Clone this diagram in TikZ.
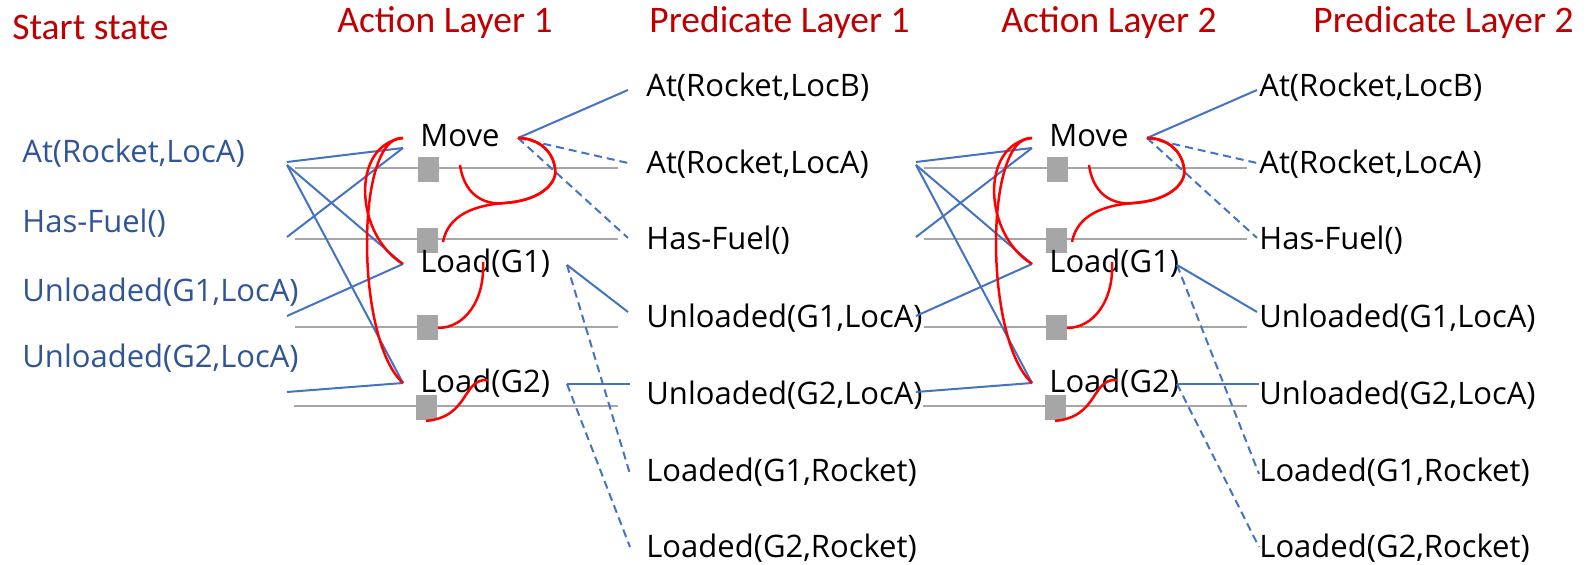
\documentclass[tikz,border=0pt]{standalone}
\usepackage{fontspec}
\setmainfont{Open Sans}
\newfontfamily\titlefont{Carlito}
\definecolor{tred}{HTML}{C00000}
\definecolor{sblue}{HTML}{2F5597}
\definecolor{lblue}{HTML}{4472C4}
\definecolor{lgray}{HTML}{A6A6A6}
\tikzset{
  title/.style={anchor=base west, inner sep=0pt, text=tred, font=\titlefont\fontsize{18.75}{20}\selectfont},
  pred/.style={anchor=base west, inner sep=0pt, text=black, font=\fontsize{15.5}{17}\selectfont},
  spred/.style={pred, text=sblue},
  act/.style={pred},
  link/.style={draw=lblue, line width=1pt},
  neg/.style={link, dash pattern=on 4pt off 2.5pt},
  noopline/.style={draw=lgray, line width=1.4pt},
  noopbox/.style={fill=lgray, draw=none, minimum width=10.5pt, minimum height=12.5pt, inner sep=0pt},
  mutex/.style={draw=red, line width=1.25pt},
}
% #1 suffix, #2 x shift (px), #3 local x of the Load right ends
\newcommand\ActLayer[3]{%
\begin{scope}[shift={(#2,0)}]
  % noop lines
  \coordinate (gA0#1) at (295,168);  \coordinate (gA1#1) at (618,168);
  \coordinate (gH0#1) at (295,239);  \coordinate (gH1#1) at (618,239);
  \coordinate (gU0#1) at (295,327);  \coordinate (gU1#1) at (618,327);
  \coordinate (gV0#1) at (294,406);  \coordinate (gV1#1) at (618,406);
  \draw[noopline] (gA0#1) -- (gA1#1);
  \draw[noopline] (gH0#1) -- (gH1#1);
  \draw[noopline] (gU0#1) -- (gU1#1);
  \draw[noopline] (gV0#1) -- (gV1#1);
  \node[noopbox] (nbA#1) at (428,170) {};
  \node[noopbox] (nbH#1) at (427,241) {};
  \node[noopbox] (nbU#1) at (427,328) {};
  \node[noopbox] (nbV#1) at (426,408) {};
  % action labels
  \node[act] (move#1) at (420,147) {Move};
  \node[act] (loadA#1) at (420,273) {Load(G1)};
  \node[act] (loadB#1) at (420,393) {Load(G2)};
  % connection points
  \coordinate (pAt#1) at (287,162);
  \coordinate (pAu#1) at (287,165);
  \coordinate (pHf#1) at (287,237);
  \coordinate (pUa#1) at (287,316);
  \coordinate (pUb#1) at (287,392);
  \coordinate (mvIn#1) at (403,148);
  \coordinate (mvL#1) at (403,138);
  \coordinate (laL#1) at (403,264);
  \coordinate (lbL#1) at (403,383);
  \coordinate (mvR#1) at (518,138);
  \coordinate (laR#1) at (#3,265);
  \coordinate (lbR#1) at (#3,384);
  \coordinate (qB#1) at (628,90);
  \coordinate (qA#1) at (628,163);
  \coordinate (qH#1) at (628,238);
  \coordinate (qUa#1) at (628,312);
  \coordinate (qUb#1) at (630,384);
  \coordinate (qLa#1) at (630,474);
  \coordinate (qLb#1) at (630,547);
  % preconditions
  \draw[link] (pAt#1) -- (mvIn#1);
  \draw[link] (pAu#1) -- (laL#1);
  \draw[link] (pAu#1) -- (lbL#1);
  \draw[link] (pHf#1) -- (mvIn#1);
  \draw[link] (pUa#1) -- (laL#1);
  \draw[link] (pUb#1) -- (lbL#1);
  % effects
  \draw[link] (mvR#1) -- (qB#1);
  \draw[neg] (mvR#1) -- (qA#1);
  \draw[neg] (mvR#1) -- (qH#1);
  \draw[link] (laR#1) -- (qUa#1);
  \draw[neg] (laR#1) -- (qLa#1);
  \draw[link] (lbR#1) -- (qUb#1);
  \draw[neg] (lbR#1) -- (qLb#1);
  % mutexes
  \coordinate (rj#1) at (505,203);
  \coordinate (rk#1) at (555,168);
  \coordinate (mxA#1) at (460,165);
  \coordinate (mxH#1) at (443,242);
  \coordinate (mxLa#1) at (483,262);
  \coordinate (mxLb#1) at (488,380);
  \draw[mutex] (mvL#1) .. controls (350,145) and (355,235) .. (laL#1);
  \draw[mutex] (mvL#1) .. controls (355,135) and (355,340) .. (lbL#1);
  \draw[mutex] (mxA#1) .. controls (465,200) and (490,205) .. (rj#1)
     .. controls (545,200) and (558,180) .. (rk#1)
     .. controls (552,148) and (535,138) .. (mvR#1);
  \draw[mutex] (mxH#1) .. controls (448,215) and (475,205) .. (rj#1)
     .. controls (545,200) and (558,180) .. (rk#1)
     .. controls (552,148) and (535,138) .. (mvR#1);
  \draw[mutex] (mxLa#1) .. controls (485,300) and (465,328) .. (nbU#1.east);
  \draw[mutex] (mxLb#1) .. controls (462,378) and (470,417) .. (nbV#1.south);
\end{scope}}
\begin{document}
\begin{tikzpicture}[x=0.5pt,y=-0.5pt]
\useasboundingbox (0,0) rectangle (1589,565);
% titles
\node[title] (t0) at (12,40) {Start state};
\node[title] (t1) at (337,33) {Action Layer 1};
\node[title] (t2) at (649,33) {Predicate Layer 1};
\node[title] (t3) at (1001,33) {Action Layer 2};
\node[title] (t4) at (1313,33) {Predicate Layer 2};
% start state
\node[spred] (s1) at (22,163) {At(Rocket,LocA)};
\node[spred] (s2) at (22,233) {Has-Fuel()};
\node[spred] (s3) at (22,302) {Unloaded(G1,LocA)};
\node[spred] (s4) at (22,368) {Unloaded(G2,LocA)};
% predicate layer 1
\node[pred] (a1) at (646,97) {At(Rocket,LocB)};
\node[pred] (a2) at (646,174) {At(Rocket,LocA)};
\node[pred] (a3) at (646,250) {Has-Fuel()};
\node[pred] (a4) at (646,328) {Unloaded(G1,LocA)};
\node[pred] (a5) at (646,405) {Unloaded(G2,LocA)};
\node[pred] (a6) at (646,482) {Loaded(G1,Rocket)};
\node[pred] (a7) at (646,558) {Loaded(G2,Rocket)};
% predicate layer 2
\node[pred] (b1) at (1259,97) {At(Rocket,LocB)};
\node[pred] (b2) at (1259,174) {At(Rocket,LocA)};
\node[pred] (b3) at (1259,250) {Has-Fuel()};
\node[pred] (b4) at (1259,328) {Unloaded(G1,LocA)};
\node[pred] (b5) at (1259,405) {Unloaded(G2,LocA)};
\node[pred] (b6) at (1259,482) {Loaded(G1,Rocket)};
\node[pred] (b7) at (1259,558) {Loaded(G2,Rocket)};
% action layers
\ActLayer{x}{0}{567}
\ActLayer{y}{629}{548}
\end{tikzpicture}
\end{document}
